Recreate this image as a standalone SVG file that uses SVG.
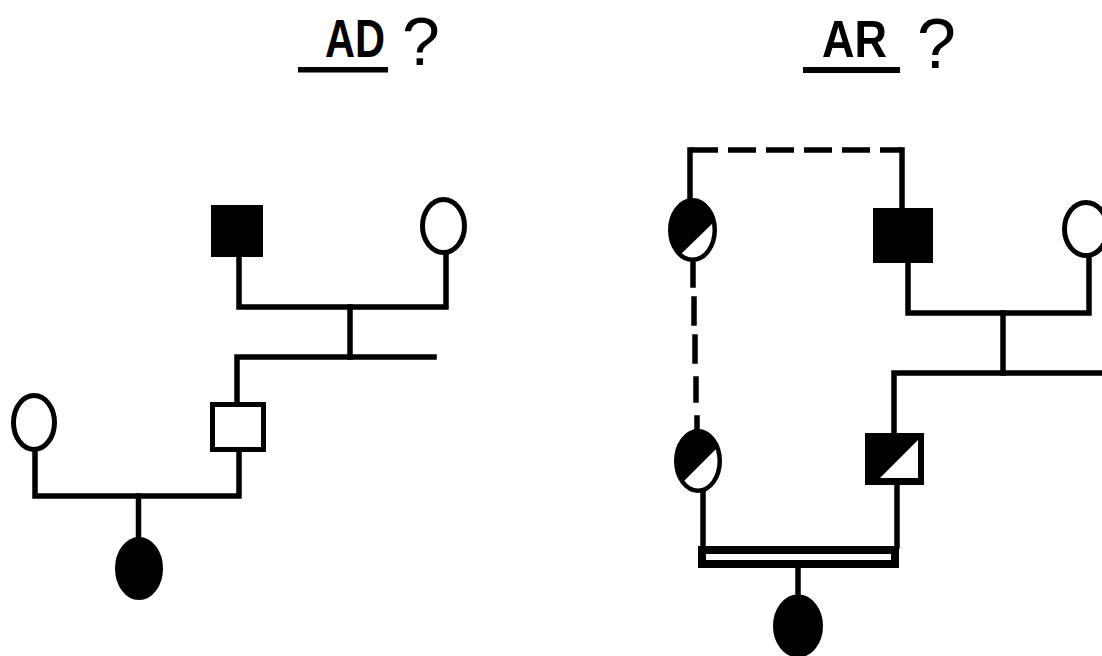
<svg xmlns="http://www.w3.org/2000/svg" width="1102" height="656" viewBox="0 0 1102 656">
<style>
.ln{fill:none;stroke:#000;stroke-width:5.5;stroke-linejoin:miter;stroke-linecap:square}
.dash{fill:none;stroke:#000;stroke-width:5.5;stroke-dasharray:28 10}
.open{fill:#fff;stroke:#000;stroke-width:5}
.full{fill:#000;stroke:#000;stroke-width:5}
.lbl{font-family:"Liberation Sans",Arial,sans-serif;fill:#000;font-weight:bold}
.q{font-family:"Liberation Sans",Arial,sans-serif;fill:#000}
</style>
<defs>
<clipPath id="cA"><ellipse cx="692.5" cy="230" rx="20" ry="27.5"/></clipPath>
<clipPath id="cB"><ellipse cx="698" cy="461" rx="19.5" ry="27.5"/></clipPath>
</defs>
<rect width="1102" height="656" fill="#fff"/>
<g id="titles">
<text class="lbl" x="325" y="57" font-size="54" textLength="60" lengthAdjust="spacingAndGlyphs">AD</text>
<rect x="298" y="67" width="90" height="5.5" fill="#000"/>
<text class="q" x="402" y="65" font-size="68">?</text>
<text class="lbl" x="822" y="57" font-size="52" textLength="65" lengthAdjust="spacingAndGlyphs">AR</text>
<rect x="803" y="67" width="97" height="6" fill="#000"/>
<text class="q" x="917" y="68" font-size="70">?</text>
</g>
<g id="connectors">
<path class="ln" d="M239,257 V307 H446 V255"/>
<path class="ln" d="M350,307 V357"/>
<path class="ln" d="M434,357 H237 V402"/>
<path class="ln" d="M239,452 V496 H35 V452"/>
<path class="ln" d="M138.5,496 V537"/>
<path class="ln" d="M690,198 V150"/>
<path class="dash" d="M690,150 H902"/>
<path class="ln" d="M902,150 V208"/>
<path class="ln" d="M693,264 V285 M694,299 V323 M695,337 V361 M696,379 V400 M697,418 V429"/>
<path class="ln" d="M908,262 V313 H1089 V258"/>
<path class="ln" d="M1003,313 V373"/>
<path class="ln" d="M1104,373 H894 V433"/>
<path class="ln" d="M703,493 V546"/>
<path class="ln" d="M897,485 V546"/>
<rect x="702" y="550" width="193" height="14" fill="#fff" stroke="#000" stroke-width="8"/>
<path class="ln" d="M798,568 V594"/>
</g>
<g id="ad-father"><rect class="full" x="213.5" y="207.5" width="47" height="47"/></g>
<g id="ad-mother"><ellipse class="open" cx="443.5" cy="226" rx="21" ry="26.5"/></g>
<g id="ad-son"><rect class="open" x="212.5" y="404.5" width="51" height="45"/></g>
<g id="ad-wife"><ellipse class="open" cx="34" cy="422.5" rx="20.5" ry="27"/></g>
<g id="ad-daughter"><ellipse class="full" cx="139" cy="568.5" rx="21.5" ry="29"/></g>
<g id="ar-carrier-top">
<ellipse class="full" cx="692.5" cy="230" rx="22" ry="29.5"/>
<polygon fill="#fff" clip-path="url(#cA)" points="650,284 740,197 740,300 650,300"/>
</g>
<g id="ar-father"><rect class="full" x="875.5" y="210.5" width="55" height="50"/></g>
<g id="ar-mother"><ellipse class="open" cx="1086" cy="229" rx="21.5" ry="26.5"/></g>
<g id="ar-carrier-bottom">
<ellipse class="full" cx="698" cy="461" rx="21.5" ry="29.5"/>
<polygon fill="#fff" clip-path="url(#cB)" points="650,515 740,425 740,540 650,540"/>
</g>
<g id="ar-carrier-son">
<rect class="full" x="867.5" y="435.5" width="54" height="47"/>
<polygon fill="#fff" points="880,478 918,440 918,478"/>
</g>
<g id="ar-daughter"><ellipse class="full" cx="798" cy="626" rx="22.5" ry="29"/></g>
</svg>
